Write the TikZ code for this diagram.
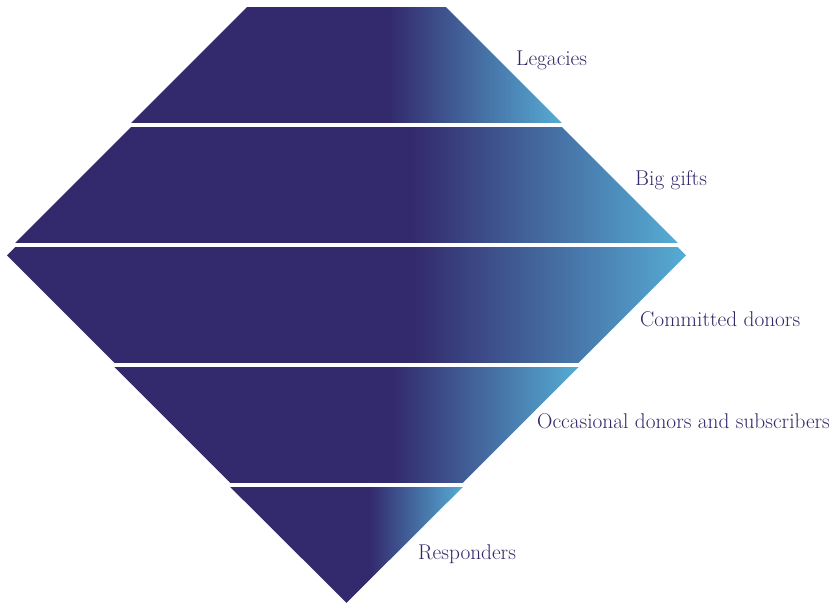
\documentclass[tikz,border=0pt]{standalone}
\usepackage{tikz}
\usetikzlibrary{positioning}
\usepackage{color}

\definecolor{navy}{RGB}{51,42,109}
\definecolor{sky}{RGB}{86,172,212}
\definecolor{tiertext}{RGB}{50,40,104}
\pgfdeclarehorizontalshading{bandfade}{100bp}{color(0bp)=(navy); color(55bp)=(navy); color(75bp)=(sky); color(100bp)=(sky)}

\begin{document}
\begin{tikzpicture}[x=0.03cm, y=-0.03cm,
    band/.style={shading=bandfade, draw=none},
    tier/.style={anchor=base west, text=tiertext, inner sep=0pt, font=\fontsize{18.2}{21}\selectfont}]
      \useasboundingbox (0,0) rectangle (836,603);

      \shade[band] (247,7) -- (446,7) -- (561.8,122.8) -- (131.2,122.8) -- cycle;
      \shade[band] (131.2,127) -- (561.8,127) -- (677.6,242.8) -- (15.4,242.8) -- cycle;
      \shade[band] (15.4,247) -- (677.6,247) -- (686,255.4) -- (578.6,362.8) -- (114.4,362.8) -- (7,255.4) -- cycle;
      \shade[band] (114.4,367) -- (578.6,367) -- (462.8,482.8) -- (230.2,482.8) -- cycle;
      \shade[band] (230.2,487) -- (462.8,487) -- (346.5,602.8) -- cycle;

      \node[tier] (legacies) at (516,65) {Legacies};
      \node[tier] (biggifts) at (635,185) {Big gifts};
      \node[tier] (committed) at (640,326) {Committed donors};
      \node[tier] (occasional) at (537,428) {Occasional donors and subscribers};
      \node[tier] (responders) at (418,559) {Responders};
    \end{tikzpicture}
\end{document}
